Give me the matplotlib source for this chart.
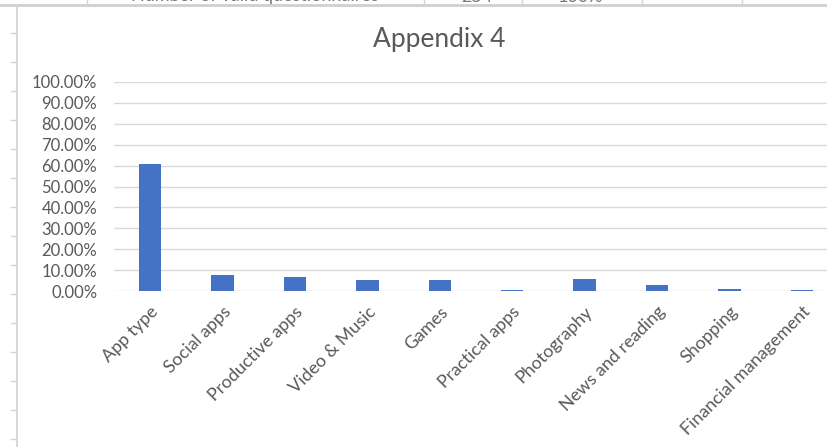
import matplotlib
matplotlib.use("Agg")
import matplotlib.pyplot as plt
from matplotlib.lines import Line2D
from matplotlib.ticker import FuncFormatter

categories = ["App type", "Social apps", "Productive apps", "Video & Music", "Games",
              "Practical apps", "Photography", "News and reading", "Shopping",
              "Financial management"]
values = [0.606, 0.077, 0.066, 0.053, 0.053, 0.006, 0.059, 0.029, 0.011, 0.006]
yticks = [i / 10 for i in range(11)]
header_texts = ["Number of valid questionnaires", "254", "100%"]

W, H = 827, 447
fig = plt.figure(figsize=(W / 100, H / 100), dpi=100)
fig.patch.set_facecolor("white")
plt.rcParams["font.family"] = ["Lato", "DejaVu Sans"]

def fx(px):
    return px / W

def fy(py):
    return 1 - py / H

# spreadsheet remnants
grid_c = "#d4d4d4"
fig.add_artist(Line2D([fx(0), fx(W)], [fy(4.5), fy(4.5)], color="#cfcfcf", lw=2.0))
fig.add_artist(Line2D([fx(17), fx(17)], [fy(5), fy(H)], color=grid_c, lw=1.3))
for x in [87, 424, 522, 642, 742]:
    fig.add_artist(Line2D([fx(x), fx(x)], [fy(0), fy(4)], color=grid_c, lw=1.0))
for k in range(15):
    y = 33 + 29 * k
    fig.add_artist(Line2D([fx(11), fx(17)], [fy(y), fy(y)], color=grid_c, lw=1.0))
for txt, x in zip(header_texts, [255, 477, 580]):
    fig.text(fx(x), fy(1.5), txt, ha="center", va="baseline", fontsize=13, color="#777777")

# chart
left, right = 114, 838
bottom, top = 291, 82
ax = fig.add_axes([fx(left), fy(bottom), (right - left) / W, (bottom - top) / H])
ax.set_facecolor("none")
x = list(range(len(categories)))
ax.bar(x, values, width=0.31, color="#4472C4", zorder=3)
ax.set_xlim(-0.5, len(categories) - 0.5)
ax.set_ylim(0, 1.0)
ax.set_yticks(yticks)
ax.yaxis.set_major_formatter(FuncFormatter(lambda v, p: f"{v * 100:.2f}%"))
ax.grid(axis="y", color="#d9d9d9", lw=1.0, zorder=0)
for s in ax.spines.values():
    s.set_visible(False)
ax.tick_params(axis="both", length=0, colors="#595959")
ax.tick_params(axis="y", labelsize=12, pad=12)
ax.set_xticks(x)
ax.set_xticklabels(categories, rotation=45, ha="right", rotation_mode="anchor",
                   fontsize=12.8, color="#595959")
ax.tick_params(axis="x", pad=9)

fig.text(fx(439), fy(40), "Appendix 4", ha="center", va="center", fontsize=19,
         color="#595959")

fig.savefig("out.png", dpi=100)
